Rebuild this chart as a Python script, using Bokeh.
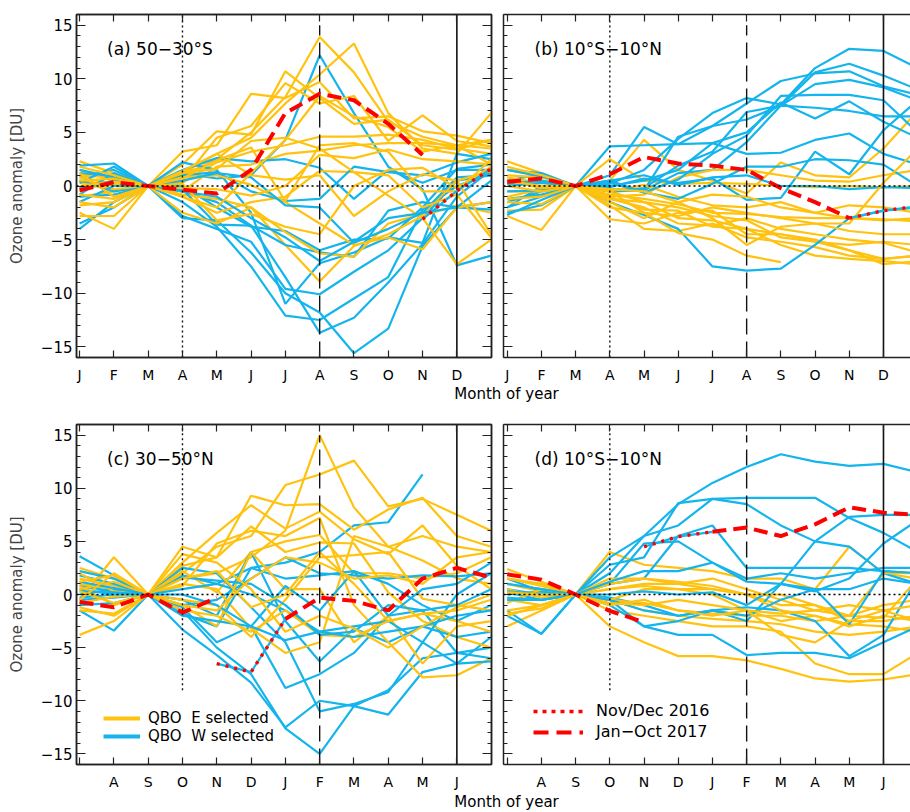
import numpy as np
from bokeh.plotting import figure
from bokeh.layouts import column, row
from bokeh.models import (FixedTicker, LinearAxis, Range1d, Legend, LegendItem,
                          Label, Span, CustomLabelingPolicy)
from bokeh.embed import file_html
from bokeh.resources import INLINE

# ---------------- data ----------------
MONTH_POS = list(range(13))          # month index, 12 = following month
LABELS_JAN = ["J", "F", "M", "A", "M", "J", "J", "A", "S", "O", "N", "D"]
LABELS_JUL = ["", "A", "S", "O", "N", "D", "J", "F", "M", "A", "M", "J"]
Y_TICKS = [-15, -10, -5, 0, 5, 10, 15]
N = None

# (a) 50-30S
a_east = [
    [1.5, 0.5, 0, 1.0, 2.5, 5.0, 8.3, 13.9, 10.6, 6.0, 4.6, 3.8, 3.5],
    [0.5, 0.0, 0, 1.2, 3.0, 4.5, 7.7, 10.4, 13.3, 6.8, 3.5, 3.0, 6.8],
    [-1.0, -0.5, 0, 2.0, 5.1, 4.8, 10.7, 8.2, 5.8, 6.2, 3.8, 3.4, 4.3],
    [2.3, 1.2, 0, 3.2, 3.8, 8.6, 8.2, 9.7, 6.3, 6.5, 5.1, 4.7, 4.0],
    [0.8, 0.2, 0, 0.5, 4.5, 5.6, 9.6, 7.7, 8.4, 4.2, 6.6, 4.2, 3.7],
    [-0.5, 0.5, 0, 0.3, 2.2, 3.2, 3.8, 4.6, 4.6, 4.8, 4.3, 3.5, 3.0],
    [1.0, 0.8, 0, -0.5, 1.8, 2.0, 3.0, 3.3, 3.8, 4.0, 4.0, 3.8, 2.0],
    [0.3, -0.3, 0, -0.8, -1.2, -2.0, -5.5, -8.9, -5.6, -4.5, -2.8, -1.8, -2.5],
    [-2.5, -4.0, 0, -2.5, -3.5, -2.0, -4.3, -6.3, -6.6, -3.5, -2.6, 0.5, -4.5],
    [-2.8, -2.8, 0, -1.0, -2.5, -1.5, -1.0, 1.4, 1.3, -0.9, -3.0, -7.3, -5.0],
    [-1.8, -1.5, 0, 0.8, 1.0, 0.1, -1.5, -3.5, -5.5, -4.8, -5.9, -2.0, -1.5],
    [0.0, 0.4, 0, -0.2, -0.3, -0.9, 0.0, 2.9, 2.6, 3.4, 2.5, 2.3, 2.0],
    [1.8, 1.0, 0, 1.4, 3.0, 1.0, 0.6, 1.0, -2.8, -0.5, 1.1, 0.5, 1.4],
    [-0.8, -1.2, 0, 0.7, 2.4, 3.6, -1.4, 3.8, 4.0, 3.2, -0.5, -0.5, 2.5],
    [1.2, -1.0, 0, 1.2, 1.6, 4.2, 4.5, 3.5, 1.3, 1.0, -2.0, -0.8, -4.8],
    [-1.5, -2.0, 0, 0.2, -3.2, -2.6, -3.8, -4.5, 0.0, 1.5, 1.7, -0.2, 1.8],
    [0.5, 0.7, 0, -1.0, -2.0, 1.2, 4.3, 8.4, 6.5, 5.5, 3.2, 3.8, 4.3],
]
a_west = [
    [0.8, 1.5, 0, 1.2, 0.7, 1.0, 4.3, 12.2, 6.8, 1.8, -0.3, -7.4, -6.5],
    [-4.0, -1.5, 0, -0.5, -1.5, -3.7, -8.5, -13.7, -12.3, -9.0, -5.4, -1.0, 1.5],
    [-3.5, -2.0, 0, -1.5, -3.8, -7.5, -12.1, -12.5, -10.5, -8.5, -2.2, 0.0, 1.2],
    [1.9, 2.1, 0, -3.0, -3.2, -6.2, -10.0, -11.8, -15.6, -13.3, -5.6, -2.0, -1.5],
    [1.2, 0.9, 0, -2.8, -4.0, -5.2, -9.6, -10.1, -8.0, -6.0, -3.0, 0.5, 1.0],
    [0.5, -0.5, 0, 2.2, 1.5, -2.5, -11.0, -7.2, -6.2, -4.8, -5.3, 3.0, 2.5],
    [-0.8, 1.2, 0, 0.0, -2.0, -3.8, -4.2, -6.0, -5.0, -4.9, -2.0, 1.6, 2.0],
    [-0.2, 0.5, 0, -0.3, -3.6, -3.7, -5.5, -6.2, -6.6, -2.3, -1.5, -2.0, -2.2],
    [1.5, 0.8, 0, 1.5, 2.6, 2.3, 2.5, 1.7, -1.2, 1.5, 0.3, 1.5, 1.5],
    [-1.0, -0.8, 0, 1.0, 1.3, -0.5, -1.4, -1.2, 1.8, 1.3, 1.0, 2.2, 3.0],
    [-1.5, 0.0, 0, 0.5, 1.2, 0.8, -1.8, -2.0, -5.3, -4.0, -2.5, 0.8, 1.0],
    [0.3, 1.8, 0, -0.5, -1.0, -3.0, -4.8, -7.0, -5.2, -3.0, -2.5, -2.0, 0.5],
]
a_red_dash = [[-0.4, 0.35, 0, -0.35, -0.7, 1.5, 6.8, 8.6, 8.0, 5.8, 2.9, N, N]]
a_red_dot = [N, N, N, N, N, N, N, N, N, N, -3.1, -0.45, 1.6]

# (b) 10S-10N
b_east = [
    [2.3, 1.2, 0, 0.5, 4.3, 1.5, 0.5, -0.7, 2.2, 1.0, 0.8, 3.5, 7.0],
    [-2.8, -4.1, 0, -3.1, -3.5, -2.5, -2.3, -4.5, -4.5, -5.2, -5.5, -5.2, -5.5],
    [-2.3, -2.2, 0, 2.5, 0.5, 0.2, 0.3, 0.2, 0.0, -0.1, 0.0, -0.1, 0.0],
    [0.8, 0.3, 0, -1.2, -1.5, -2.0, -2.8, -3.2, -4.8, -5.2, -6.0, -6.8, -6.5],
    [-0.5, -0.5, 0, -1.0, -2.2, -2.3, -3.8, -4.0, -4.5, -5.0, -6.0, -7.3, -7.0],
    [0.3, 0.5, 0, -1.8, -4.0, -4.2, -3.5, -4.8, -5.2, -5.7, -6.5, -6.8, -6.5],
    [1.5, 1.0, 0, -0.5, -1.5, -3.0, -3.2, -4.0, -5.5, -6.5, -6.8, -7.0, -7.3],
    [-1.0, -0.3, 0, -0.8, -1.2, -1.7, -2.5, -2.6, -2.9, -3.0, -3.0, -3.1, -3.3],
    [1.0, 0.8, 0, -0.5, 0.1, -1.0, -1.8, -2.0, -1.5, -2.5, -1.8, -2.0, -2.5],
    [0.5, -0.2, 0, -1.0, -0.8, 0.8, 1.5, 1.5, 1.0, 0.5, 0.4, 1.0, 1.5],
    [-1.5, -1.7, 0, -2.0, -2.5, -4.4, -5.0, -6.5, -7.1, N, N, N, N],
    [0.0, -0.5, 0, -1.2, -2.0, -3.5, -3.7, -3.0, -4.0, -4.5, -5.0, -5.3, -6.2],
    [1.8, 1.0, 0, -0.3, -0.5, -1.5, -3.0, -5.5, -3.8, -3.5, -4.2, -4.5, -4.5],
    [0.5, 0.0, 0, -1.5, -3.0, -1.5, -0.8, -1.0, -2.0, -2.5, -3.0, -3.2, -3.0],
    [-1.2, -1.0, 0, -0.5, -2.5, -2.8, -2.0, -2.5, -3.0, -3.5, -3.5, 0.3, 3.5],
]
b_west = [
    [-1.5, -0.5, 0, 3.7, 3.8, 3.9, 4.0, 3.0, 3.1, 4.3, 4.9, 3.0, 2.0],
    [0.5, 1.1, 0, 1.0, 5.5, 3.9, 5.6, 7.7, 9.8, 10.5, 10.7, 9.3, 8.5],
    [-2.0, -1.0, 0, 0.2, 1.5, 4.4, 6.8, 8.2, 7.6, 11.0, 12.8, 12.6, 11.0],
    [1.5, 1.2, 0, -0.3, -0.4, 4.6, 5.6, 6.2, 7.5, 10.6, 11.4, 10.3, 9.0],
    [-1.2, -0.8, 0, -0.5, -0.2, 1.9, 3.2, 6.9, 7.5, 9.5, 9.9, 9.2, 8.0],
    [-2.5, -1.8, 0, 0.0, 0.5, 1.5, 4.0, 5.0, 7.8, 6.3, 7.9, 6.0, 4.5],
    [-2.0, 0.0, 0, -0.5, -0.4, 1.2, 1.5, 4.1, 7.5, 7.3, 7.0, 6.5, 6.5],
    [0.2, 0.5, 0, -1.5, -2.7, -4.0, -7.5, -7.9, -7.7, -5.5, -3.0, -2.3, -2.0],
    [-0.5, -0.4, 0, -0.1, 0.7, 0.3, 0.7, -1.3, -1.1, 3.2, 1.1, 5.2, 8.0],
    [0.0, 0.3, 0, 0.5, -0.6, 0.6, 3.0, 4.7, 8.4, 8.5, 8.5, 8.0, 5.0],
    [1.5, 0.9, 0, 0.3, -0.6, -1.2, 0.2, 1.8, 1.8, 2.5, 2.4, 2.0, 0.0],
    [-2.7, -1.3, 0, 0.5, 1.0, 0.1, 0.8, 1.0, 0.0, 0.0, -0.3, -0.1, -0.2],
]
b_red_dash = [[0.4, 0.7, 0, 1.1, 2.7, 2.1, 1.9, 1.5, -0.2, -1.5, -3.0, N, N]]
b_red_dot = [N, N, N, N, N, N, N, N, N, N, -3.0, -2.3, -1.9]

# (c) 30-50N  (x axis starts in July)
c_east = [
    [1.0, 0.5, 0, 1.5, 2.0, 3.5, 6.0, 15.0, 8.2, 4.5, 3.2, 1.5, 1.0],
    [2.5, 1.5, 0, 2.0, 4.5, 5.5, 10.3, 11.3, 12.6, 8.3, 9.0, 7.5, 6.0],
    [-0.5, 3.5, 0, 4.5, 3.5, 9.3, 8.4, 8.5, 6.1, 8.0, 9.1, 5.5, 4.5],
    [1.5, 0.8, 0, 3.0, 5.8, 8.4, 6.2, 7.8, 5.2, 3.8, 6.5, 2.7, 0.5],
    [-3.8, -2.5, 0, 2.7, 3.5, 6.4, 4.0, 4.9, 4.8, 0.2, -2.5, -4.0, -5.0],
    [0.8, -1.0, 0, 2.2, 0.2, 4.0, 5.0, 5.6, 2.0, 2.0, 1.5, 2.0, 3.5],
    [-1.2, -2.0, 0, 0.8, 4.8, 6.0, 5.5, 7.2, -1.0, -4.5, -7.8, -7.6, -6.0],
    [0.5, 1.2, 0, 1.0, 0.5, -3.2, -5.5, -4.5, 5.5, 4.5, 5.5, 4.5, 4.0],
    [-1.5, -1.8, 0, -1.0, -3.0, 4.0, 0.5, 0.5, -4.5, -2.0, -6.5, -3.0, -2.5],
    [2.0, 0.3, 0, -0.5, -1.0, -4.0, -0.5, 3.5, 3.7, 4.0, -0.4, -1.0, -1.5],
    [-0.8, -0.2, 0, -1.5, -2.0, -3.5, -1.5, -3.8, -4.0, -2.5, -1.8, -1.5, -0.5],
    [1.2, 1.8, 0, 1.5, 2.2, -1.2, 0.0, 4.0, 1.0, -2.5, -1.8, -2.5, -3.5],
    [0.3, -0.8, 0, -1.0, -1.5, 1.5, 3.5, 3.0, 1.5, 1.8, 1.0, 3.5, 4.0],
    [-0.5, 2.0, 0, 3.8, 3.0, 0.5, -3.5, -2.0, -3.2, -5.0, -3.0, -1.2, 0.0],
]
c_west = [
    [3.6, 1.8, 0, 1.8, 1.0, 2.5, 3.0, 4.0, 6.5, 6.8, 11.3, N, N],
    [0.5, 0.0, 0, -1.5, -5.0, -7.5, -12.6, -15.0, -10.5, -9.0, -6.0, -5.5, -5.0],
    [-1.5, -3.4, 0, -3.3, -5.7, -8.3, -12.5, -10.0, -10.5, -11.3, -7.3, -6.5, -4.0],
    [2.2, 1.5, 0, -1.2, -4.5, -3.0, -8.8, -7.5, -5.5, -2.0, -1.5, -5.5, -6.0],
    [0.8, 0.3, 0, 2.5, 2.0, -1.2, -4.5, -11.0, -10.3, -9.2, -4.5, 0.0, 2.0],
    [-0.5, -0.3, 0, -0.5, -2.0, 4.0, -2.5, -6.3, -3.2, -4.5, -3.0, -4.0, -3.5],
    [1.8, 1.0, 0, -1.0, -0.5, 1.5, 3.5, 2.0, 1.8, 1.5, 1.8, 1.7, 2.0],
    [0.0, 0.5, 0, -1.8, -3.0, 2.5, 1.5, 1.8, 2.2, 1.0, -1.0, -2.5, -1.0],
    [-1.0, -0.8, 0, 0.5, 1.0, 0.0, -1.5, -3.5, -3.0, -2.5, -4.5, -6.5, -6.3],
    [0.3, 0.2, 0, -2.0, -2.5, -3.0, 0.8, -1.5, 2.2, -2.0, 0.5, 1.0, 3.0],
    [1.2, 0.6, 0, 1.6, 1.3, 1.0, -1.0, -3.8, -3.5, -1.0, -1.5, -1.0, 0.5],
    [-0.3, 0.0, 0, 0.0, -1.0, -3.0, -4.3, -3.5, -4.0, -3.5, -3.0, -2.0, -1.5],
]
c_red_dash = [[-0.7, -1.2, 0, -1.7, -0.3, N, N, N, N, N, N, N, N],
              [N, N, N, N, N, N, -2.3, -0.3, -0.6, -1.5, 1.5, 2.5, 1.6]]
c_red_dot = [N, N, N, N, -6.5, -7.3, -2.3, N, N, N, N, N, N]

# (d) 10S-10N  (x axis starts in July)
d_east = [
    [2.4, 1.2, 0, 4.0, 2.8, 2.5, 2.2, 1.5, 1.5, 0.5, 4.5, 2.0, 1.5],
    [-3.0, -1.5, 0, -3.0, -4.5, -5.8, -5.8, -6.2, -7.0, -7.9, -8.2, -8.0, -7.5],
    [1.5, 1.0, 0, -1.5, -2.0, -2.5, -3.0, -3.0, -3.5, -6.5, -7.5, -7.5, -5.5],
    [-0.5, -1.0, 0, 0.5, 0.8, 0.5, 0.0, -1.5, -2.5, -2.0, -2.8, -3.0, -3.5],
    [1.0, 0.3, 0, -0.5, -1.5, -2.0, -2.3, -2.5, -2.8, -3.5, -3.8, -3.5, -3.0],
    [-1.8, -1.3, 0, 0.5, 1.0, 1.0, 1.5, 0.5, -0.5, -1.5, -2.0, -1.0, -0.5],
    [0.5, -0.3, 0, 1.5, 1.5, 1.2, 0.8, 0.0, -1.0, -1.0, -2.5, -2.5, -2.0],
    [-0.8, 0.5, 0, -0.5, -0.8, -1.5, -1.8, -2.0, -2.0, -2.5, -2.0, -2.2, 1.5],
    [1.5, 0.8, 0, -0.5, 0.5, 0.5, 0.5, 0.0, -1.5, -2.0, -3.0, -2.0, -2.5],
    [-2.0, -1.0, 0, 1.0, 1.5, 1.0, 0.5, 0.0, 0.0, -1.0, -2.0, 2.0, 2.0],
    [0.2, 0.0, 0, -0.8, -1.0, -0.5, -1.0, -1.5, -1.8, -1.5, -1.0, -1.5, -2.5],
    [-1.5, -1.0, 0, -1.0, -0.5, -1.5, -2.0, -1.5, -3.8, -4.5, -2.5, -1.5, -1.0],
]
d_west = [
    [1.0, 0.5, 0, 3.5, 5.5, 8.5, 10.5, 12.0, 13.2, 12.5, 12.1, 12.3, 11.5],
    [0.2, -0.5, 0, 2.0, 5.5, 6.5, 9.0, 9.1, 9.1, 9.1, 7.2, 5.8, 4.0],
    [-2.0, -3.7, 0, 2.8, 3.5, 8.6, 9.0, 8.5, 6.5, 5.0, 4.5, 2.0, 1.0],
    [0.5, 0.0, 0, 1.0, 1.5, 5.5, 6.5, 2.5, 2.5, 2.5, 2.5, 2.2, 2.0],
    [-1.5, -3.7, 0, 1.0, 4.8, 5.0, 3.0, 1.5, 2.0, 1.5, 2.0, 2.5, 2.5],
    [1.5, 0.3, 0, -1.0, -3.0, -3.8, -3.8, -5.7, -5.5, -5.5, -6.0, -4.5, -3.0],
    [0.0, 0.3, 0, -0.3, -1.0, -2.0, -1.5, -2.5, 1.0, 5.0, 7.3, 7.5, 7.5],
    [-0.3, -0.5, 0, -0.5, -1.5, -2.0, -1.5, -1.2, -1.5, -2.5, -5.8, -3.8, 1.5],
    [0.3, 0.0, 0, 0.0, 0.3, 0.0, 0.2, -1.0, 1.0, 0.3, 1.5, 4.8, 7.0],
    [1.0, 0.5, 0, -0.5, -3.0, -2.5, -1.5, -2.0, -0.5, 0.5, 0.5, 1.5, 1.0],
    [-0.5, -0.5, 0, 1.2, 2.2, 2.2, 3.0, 1.2, 1.0, 0.5, -2.8, 2.2, 2.0],
]
d_red_dash = [[1.9, 1.4, 0, -1.55, -2.6, N, N, N, N, N, N, N, N],
              [N, N, N, N, N, N, 5.9, 6.3, 5.5, 6.6, 8.2, 7.7, 7.5]]
d_red_dot = [N, N, N, N, 4.5, 5.45, 5.9, N, N, N, N, N, N]

# ---------------- style ----------------
FONT = "DejaVu Sans"
YELLOW = "#FFC20E"
BLUE = "#14B4EC"
RED = "#FF0000"
INK = "#222222"
LW = 2.2

# reference lines: (month index, dash, y from, y to)
VLINES_TOP = [(3, "2 3", -16, 16), (7, "16 7", -16, 15), (11, "solid", -16, 16)]
VLINES_BOT = [(3, "2 3", -9, 16), (7, "16 7", -16, 15), (11, "solid", -16, 16)]

HIDE_LABELS = CustomLabelingPolicy(
    code="for (const i of Array.from(indices)) { indices.unset(i) }\nreturn indices")


def style_axis(ax, tick_in, minor_in, show_labels, font_size):
    ax.axis_line_color = INK
    ax.axis_line_width = 1.5
    ax.major_tick_in = tick_in
    ax.major_tick_out = 0
    ax.minor_tick_in = minor_in
    ax.minor_tick_out = 0
    ax.major_tick_line_color = INK
    ax.major_tick_line_width = 1.2
    ax.minor_tick_line_color = INK
    ax.minor_tick_line_width = 1.2
    ax.major_label_text_font = FONT
    ax.major_label_text_color = "black"
    if show_labels:
        ax.major_label_text_font_size = font_size
    else:
        ax.major_label_text_font_size = "1px"
        ax.major_label_standoff = 0
        ax.major_label_policy = HIDE_LABELS


def build_panel(east, west, red_dash, red_dot, month_labels, title, x_start, x_end,
                width, height, b_left, b_right, b_top, b_bottom,
                with_ylabels, boxed, vlines):
    p = figure(width=width, height=height,
               x_range=Range1d(x_start, x_end), y_range=Range1d(-16, 16),
               output_backend="svg", toolbar_location=None,
               x_axis_location=None, y_axis_location=None,
               min_border_left=b_left, min_border_right=b_right,
               min_border_top=b_top, min_border_bottom=b_bottom)
    p.xgrid.grid_line_color = None
    p.ygrid.grid_line_color = None
    p.background_fill_color = "white"
    p.border_fill_color = "white"
    if boxed:
        p.outline_line_color = INK
        p.outline_line_width = 1.5
    else:
        p.outline_line_color = None

    xt = FixedTicker(ticks=list(range(12)), minor_ticks=[])
    yt = FixedTicker(ticks=Y_TICKS, minor_ticks=list(range(-16, 17)))

    bottom = LinearAxis(ticker=xt,
                        major_label_overrides={i: s for i, s in enumerate(month_labels)})
    style_axis(bottom, 7, 0, True, "14px")
    bottom.major_label_standoff = 9
    p.add_layout(bottom, "below")

    top = LinearAxis(ticker=xt)
    style_axis(top, 7, 0, False, "0px")
    p.add_layout(top, "above")

    left = LinearAxis(ticker=yt,
                      major_label_overrides={-15: "\u221215", -10: "\u221210", -5: "\u22125"})
    style_axis(left, 9, 4, with_ylabels, "15px")
    if with_ylabels:
        left.major_label_standoff = 4
        left.axis_label = "Ozone anomaly [DU]"
        left.axis_label_text_font = FONT
        left.axis_label_text_font_size = "15px"
        left.axis_label_text_font_style = "normal"
        left.axis_label_standoff = 12
    p.add_layout(left, "left")

    if boxed:
        right = LinearAxis(ticker=yt)
        style_axis(right, 9, 4, False, "0px")
        p.add_layout(right, "right")

    # data lines, interleaved
    for i in range(max(len(east), len(west))):
        if i < len(east):
            p.line(MONTH_POS, np.array(east[i], dtype=float), line_color=YELLOW,
                   line_width=LW)
        if i < len(west):
            p.line(MONTH_POS, np.array(west[i], dtype=float), line_color=BLUE,
                   line_width=LW)

    # reference lines
    p.add_layout(Span(location=0, dimension="width", line_color="black",
                      line_dash="2 3", line_width=1.3))
    for xm, dash, y0, y1 in vlines:
        p.segment(x0=[xm], y0=[y0], x1=[xm], y1=[y1], line_color="#111111",
                  line_width=1.4 if dash != "solid" else 1.6, line_dash=dash)

    # 2016 (a QBO-W year: blue line under red dots) and 2017 red lines
    p.line(MONTH_POS, np.array(red_dot, dtype=float), line_color=BLUE,
           line_width=LW)
    p.line(MONTH_POS, np.array(red_dot, dtype=float), line_color=RED,
           line_width=3.4, line_dash="3 6")
    for seg in red_dash:
        p.line(MONTH_POS, np.array(seg, dtype=float), line_color=RED,
               line_width=4, line_dash="14 7")

    p.add_layout(Label(x=0.8, y=12.75, text=title, text_font=FONT,
                       text_font_size="17px", text_baseline="middle",
                       text_color="black"))
    return p


W_LEFT, W_RIGHT = 497, 413
H_TOP, H_GAP, H_BOT, H_FOOT = 385, 21, 386, 18

pa = build_panel(a_east, a_west, a_red_dash, a_red_dot, LABELS_JAN,
                 "(a) 50\u221230\u00b0S", -0.09, 12.01, W_LEFT, H_TOP, 76, 6, 14, 28,
                 True, True, VLINES_TOP)
pb = build_panel(b_east, b_west, b_red_dash, b_red_dot, LABELS_JAN,
                 "(b) 10\u00b0S\u221210\u00b0N", -0.108, 11.79, W_RIGHT, H_TOP, 6, 0, 14, 28,
                 False, False, VLINES_TOP)
pc = build_panel(c_east, c_west, c_red_dash, c_red_dot, LABELS_JUL,
                 "(c) 30\u221250\u00b0N", -0.09, 12.01, W_LEFT, H_BOT, 76, 6, 18, 25,
                 True, True, VLINES_BOT)
pd = build_panel(d_east, d_west, d_red_dash, d_red_dot, LABELS_JUL,
                 "(d) 10\u00b0S\u221210\u00b0N", -0.108, 11.79, W_RIGHT, H_BOT, 6, 0, 18, 25,
                 False, False, VLINES_BOT)

# legends (hidden proxy renderers carry the thicker legend strokes)
rE = pc.line(MONTH_POS, np.array(c_east[0], dtype=float), line_color=YELLOW,
             line_width=4, visible=False)
rW = pc.line(MONTH_POS, np.array(c_west[0], dtype=float), line_color=BLUE,
             line_width=4, visible=False)
leg_c = Legend(items=[LegendItem(label="QBO  E selected", renderers=[rE]),
                      LegendItem(label="QBO  W selected", renderers=[rW])],
               location=(27, 19), padding=0, margin=0, spacing=-1,
               glyph_width=37, glyph_height=14, label_height=14,
               label_standoff=8, label_text_font=FONT, label_text_color="black",
               label_text_font_size="15px", background_fill_alpha=0,
               border_line_color=None)
pc.add_layout(leg_c)

rDot = pd.line(MONTH_POS, np.array(d_red_dot, dtype=float), line_color=RED,
               line_width=3.5, line_dash="4 5", visible=False)
rDash = pd.line(MONTH_POS, np.array(d_red_dash[1], dtype=float), line_color=RED,
                line_width=4, line_dash="15 8", visible=False)
leg_d = Legend(items=[LegendItem(label="Nov/Dec 2016", renderers=[rDot]),
                      LegendItem(label="Jan\u2212Oct 2017", renderers=[rDash])],
               location=(30, 23), padding=0, margin=0, spacing=2,
               glyph_width=50, glyph_height=16, label_height=16,
               label_standoff=13, label_text_font=FONT, label_text_color="black",
               label_text_font_size="16px", background_fill_alpha=0,
               border_line_color=None)
pd.add_layout(leg_d)


def xlabel_strip(height, y):
    f = figure(width=W_LEFT + W_RIGHT, height=height,
               x_range=Range1d(0, W_LEFT + W_RIGHT), y_range=Range1d(0, height),
               output_backend="svg", toolbar_location=None,
               x_axis_location=None, y_axis_location=None, min_border=0)
    f.outline_line_color = None
    f.xgrid.grid_line_color = None
    f.ygrid.grid_line_color = None
    f.add_layout(Label(x=506, y=y, text="Month of year", text_font=FONT,
                       text_font_size="15px", text_align="center",
                       text_baseline="middle", text_color="black"))
    return f


lab1 = xlabel_strip(H_GAP, 13)
lab2 = xlabel_strip(H_FOOT, 9)

layout = column(row(pa, pb), lab1, row(pc, pd), lab2)
open("out.html", "w").write(file_html(layout, INLINE))
